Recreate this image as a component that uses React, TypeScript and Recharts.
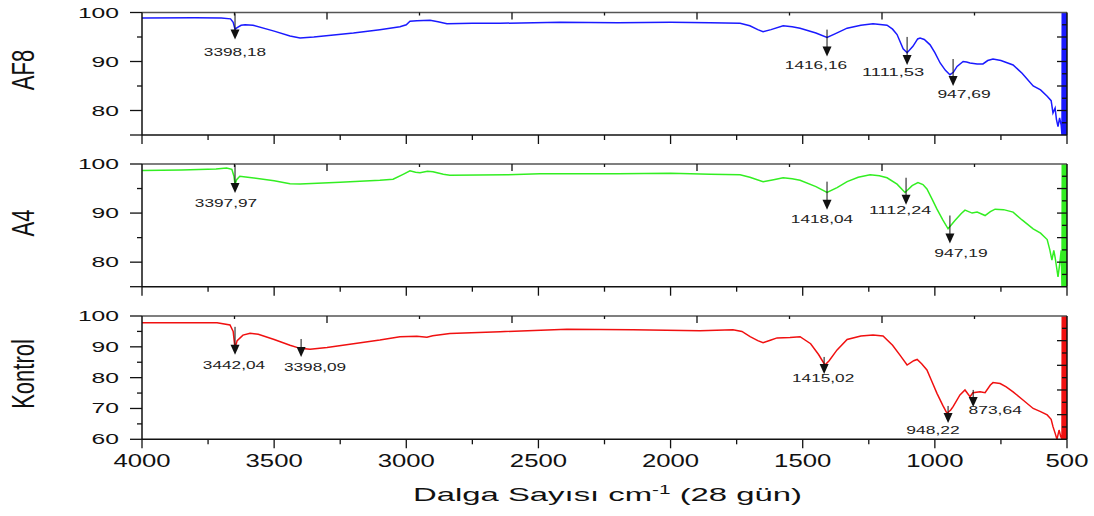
import { LineChart, Line, XAxis, YAxis, ReferenceDot } from 'recharts';

const FONT = '"Liberation Sans", Arial, sans-serif';
const INK = '#111';

// FTIR scans: [wavenumber cm-1, transmittance %]
const af8Points: [number, number][] = [
  [4000, 98.9], [3800, 98.95], [3700, 98.9], [3665, 98.7], [3655, 98.0], [3648, 96.6],
  [3640, 96.9], [3625, 97.4], [3610, 97.5], [3580, 97.4], [3500, 96.2], [3440, 95.2],
  [3402, 94.8], [3350, 95.0], [3200, 95.8], [3100, 96.5], [3024, 97.1], [3000, 97.5],
  [2986, 98.2], [2960, 98.3], [2910, 98.4], [2880, 98.1], [2846, 97.7], [2750, 97.8],
  [2645, 97.8], [2418, 98.0], [2200, 97.9], [2000, 98.0], [1850, 97.9], [1737, 97.8],
  [1700, 97.3], [1670, 96.5], [1650, 96.1], [1620, 96.5], [1574, 97.3], [1540, 97.1],
  [1510, 96.8], [1450, 95.8], [1408, 94.9], [1380, 95.6], [1332, 96.8], [1280, 97.4],
  [1234, 97.7], [1181, 97.4], [1160, 96.6], [1143, 95.5], [1120, 92.6], [1105, 91.8],
  [1083, 93.1], [1065, 94.6], [1056, 94.8], [1040, 94.5], [1018, 93.4], [1000, 91.8],
  [980, 89.7], [960, 88.2], [943, 87.3], [930, 87.8], [916, 89.0], [893, 90.0],
  [880, 89.9], [867, 89.7], [840, 89.5], [818, 89.5], [800, 90.2], [780, 90.5],
  [750, 90.2], [704, 89.3], [670, 87.6], [628, 85.0], [600, 84.2], [575, 82.9],
  [560, 82.0], [553, 79.5], [545, 80.5], [540, 78.2], [534, 76.7], [528, 78.5], [522, 77.0],
];
const a4Points: [number, number][] = [
  [4000, 98.7], [3850, 98.8], [3720, 99.0], [3680, 99.2], [3660, 98.9], [3652, 97.5],
  [3648, 95.8], [3642, 96.8], [3630, 97.5], [3600, 97.3], [3500, 96.6], [3440, 96.0],
  [3402, 95.9], [3250, 96.3], [3100, 96.7], [3050, 96.9], [3012, 97.9], [2986, 98.6],
  [2965, 98.3], [2948, 98.2], [2920, 98.5], [2899, 98.4], [2860, 97.9], [2835, 97.7],
  [2619, 97.8], [2494, 98.0], [2200, 98.0], [2000, 98.1], [1850, 97.9], [1737, 97.8],
  [1700, 97.3], [1650, 96.4], [1610, 96.8], [1574, 97.2], [1540, 97.0], [1510, 96.7],
  [1450, 95.4], [1408, 94.2], [1370, 95.2], [1332, 96.4], [1290, 97.3], [1245, 97.8],
  [1210, 97.6], [1181, 97.2], [1143, 95.9], [1113, 94.2], [1086, 95.6], [1064, 96.2],
  [1045, 95.8], [1030, 94.9], [1010, 92.8], [992, 90.8], [970, 88.6], [950, 86.8],
  [924, 88.5], [900, 89.9], [886, 90.6], [859, 90.0], [840, 90.2], [810, 89.5],
  [790, 90.3], [772, 90.8], [740, 90.7], [704, 90.2], [670, 88.6], [628, 86.8],
  [600, 85.9], [575, 84.6], [565, 82.5], [557, 80.4], [550, 82.4], [545, 81.0],
  [534, 77.0], [528, 79.5], [522, 82.4],
];
const kontrolPoints: [number, number][] = [
  [4000, 97.8], [3850, 97.8], [3716, 97.8], [3667, 97.1], [3655, 95.0], [3648, 89.5],
  [3640, 92.0], [3618, 93.8], [3591, 94.4], [3560, 94.1], [3500, 92.4], [3440, 90.5],
  [3402, 89.5], [3364, 89.2], [3300, 89.8], [3200, 91.0], [3100, 92.2], [3024, 93.3],
  [2960, 93.4], [2922, 93.1], [2900, 93.6], [2835, 94.3], [2645, 94.9], [2392, 95.7],
  [2142, 95.5], [1889, 95.2], [1764, 95.5], [1730, 95.0], [1699, 93.3], [1670, 92.0],
  [1650, 91.3], [1620, 92.2], [1597, 92.9], [1548, 93.0], [1510, 93.3], [1470, 91.0],
  [1440, 87.5], [1416, 84.1], [1400, 85.5], [1370, 89.0], [1332, 92.4], [1280, 93.5],
  [1234, 93.8], [1196, 93.5], [1160, 90.5], [1132, 87.3], [1105, 84.1], [1080, 85.5],
  [1067, 85.9], [1050, 84.5], [1030, 82.5], [1010, 78.5], [992, 74.9], [970, 71.0],
  [954, 68.4], [940, 69.5], [931, 70.6], [905, 74.4], [886, 76.0], [867, 73.8],
  [856, 75.1], [829, 75.4], [810, 75.1], [790, 77.6], [780, 78.4], [753, 78.1],
  [730, 77.0], [704, 75.4], [670, 73.0], [628, 70.0], [600, 69.0], [575, 67.9],
  [560, 66.5], [553, 64.1], [545, 62.0], [538, 60.0], [530, 63.0], [524, 61.0],
];

// detector noise at the low end fills each panel top to bottom
const af8Edge: [number, number][] = [
  [519, 75], [518, 100], [517, 75], [516, 100], [515, 75], [514, 100], [513, 75],
  [512, 100], [511, 75], [510, 100], [509, 75], [508, 100], [507, 75], [506, 100],
  [505, 75], [504, 100], [503, 75], [502, 100], [501, 75], [500, 100],
];
const a4Edge: [number, number][] = [
  [519, 75], [518, 100], [517, 75], [516, 100], [515, 75], [514, 100], [513, 75],
  [512, 100], [511, 75], [510, 100], [509, 75], [508, 100], [507, 75], [506, 100],
  [505, 75], [504, 100], [503, 75], [502, 100], [501, 75], [500, 100],
];
const kontrolEdge: [number, number][] = [
  [519, 60], [518, 100], [517, 60], [516, 100], [515, 60], [514, 100], [513, 60],
  [512, 100], [511, 60], [510, 100], [509, 60], [508, 100], [507, 60], [506, 100],
  [505, 60], [504, 100], [503, 60], [502, 100], [501, 60], [500, 102],
];

// peak markers: [wavenumber, transmittance at arrow tip, label]
const af8Peaks: [number, number, string][] = [
  [3648, 94.5, '3398,18'], [1408, 91.0, '1416,16'], [1105, 89.3, '1111,53'], [931, 85.0, '947,69'],
];
const a4Peaks: [number, number, string][] = [
  [3648, 94.1, '3397,97'], [1408, 90.7, '1418,04'], [1109, 91.7, '1112,24'], [943, 83.8, '947,19'],
];
const kontrolPeaks: [number, number, string][] = [
  [3648, 87.4, '3442,04'], [3398, 86.7, '3398,09'], [1419, 81.2, '1415,02'],
  [950, 65.3, '948,22'], [855, 70.5, '873,64'],
];

// arrow stem length and label offset (px) per marker
const peakStyle: Record<string, { len: number; dx: number; dy: number }> = {
  '3398,18': { len: 26, dx: 0, dy: 13 },
  '1416,16': { len: 27, dx: -11, dy: 8 },
  '1111,53': { len: 28, dx: -14, dy: 7 },
  '947,69': { len: 27, dx: 11, dy: 8 },
  '3397,97': { len: 28, dx: -9, dy: 10 },
  '1418,04': { len: 28, dx: -5, dy: 9 },
  '1112,24': { len: 27, dx: -6, dy: 5 },
  '947,19': { len: 28, dx: 11, dy: 9 },
  '3442,04': { len: 28, dx: -1, dy: 10 },
  '3398,09': { len: 18, dx: 14, dy: 10 },
  '1415,02': { len: 17, dx: -1, dy: 4 },
  '948,22': { len: 17, dx: -15, dy: 7 },
  '873,64': { len: 17, dx: 22, dy: 3 },
};

const xTicks = [4000, 3750, 3500, 3250, 3000, 2750, 2500, 2250, 2000, 1750, 1500, 1250, 1000, 750, 500];
const topTicks = [3650, 3300, 2950, 2600, 2250, 1900, 1550, 1200, 850];
const topMajor = [3300, 2600, 1900, 1200];

const af8LeftTicks = [75, 80, 85, 90, 95, 100];
const af8LeftLabels = [80, 90, 100];
const a4LeftTicks = [75, 80, 85, 90, 95, 100];
const a4LeftLabels = [80, 90, 100];
const kontrolLeftTicks = [60, 65, 70, 75, 80, 85, 90, 95, 100];
const kontrolLeftLabels = [60, 70, 80, 90, 100];

const upperRightTicks = [77.5, 80, 82.5, 85, 87.5, 90, 92.5, 95, 97.5];
const upperRightMajor = [80, 85, 90, 95];
const kontrolRightTicks = [64, 68, 72, 76, 80, 84, 88, 92, 96];
const kontrolRightMajor = [68, 76, 84, 92];

const toRows = (pts: [number, number][]) => pts.map(([wn, v]) => ({ wn, v }));

function PeakArrow({ cx, cy, label }: { cx: number; cy: number; label: string }) {
  const s = peakStyle[label];
  return (
    <g>
      <line x1={cx} y1={cy - s.len} x2={cx} y2={cy - 8} stroke={INK} strokeWidth={1} />
      <polygon points={`${cx - 4.5},${cy - 10} ${cx + 4.5},${cy - 10} ${cx},${cy}`} fill={INK} />
      <text
        x={cx + s.dx}
        y={cy + s.dy}
        textAnchor="middle"
        dominantBaseline="central"
        fontFamily={FONT}
        fontSize={10.5}
        fill="#222"
        textLength={label.length * 8.9}
        lengthAdjust="spacingAndGlyphs"
      >
        {label}
      </text>
    </g>
  );
}

interface PanelProps {
  points: [number, number][];
  edge: [number, number][];
  peaks: [number, number, string][];
  color: string;
  domain: [number, number];
  top: number;
  bottom: number;
  leftTicks: number[];
  leftLabels: number[];
  rightTicks: number[];
  rightMajor: number[];
  showXLabels: boolean;
}

function Panel(p: PanelProps) {
  const rows = toRows([...p.points, ...p.edge]);
  const bottomTick = ({ x, y, payload }: any) => {
    const major = payload.value % 500 === 0;
    const s = String(payload.value);
    return (
      <g>
        <line x1={x} y1={y} x2={x} y2={y + (major ? 9 : 5)} stroke={INK} strokeWidth={1.3} />
        {p.showXLabels && major && (
          <text x={x} y={y + 21} textAnchor="middle" dominantBaseline="central" fontFamily={FONT}
            fontSize={18.5} fill={INK} textLength={s.length * 14.3} lengthAdjust="spacingAndGlyphs">
            {s}
          </text>
        )}
      </g>
    );
  };
  const topTick = ({ x, y, payload }: any) => (
    <line x1={x} y1={y} x2={x} y2={y + (topMajor.includes(payload.value) ? 7 : 3)} stroke={INK} strokeWidth={1.3} />
  );
  const leftTick = ({ x, y, payload }: any) => {
    const labelled = p.leftLabels.includes(payload.value);
    const long = labelled || payload.value === p.domain[0];
    const s = String(payload.value);
    return (
      <g>
        <line x1={x - (long ? 12 : 5)} y1={y} x2={x} y2={y} stroke={INK} strokeWidth={1.3} />
        {labelled && (
          <text x={x - 23} y={y} textAnchor="end" dominantBaseline="central" fontFamily={FONT}
            fontSize={14.5} fill={INK} textLength={s.length * 13.7} lengthAdjust="spacingAndGlyphs">
            {s}
          </text>
        )}
      </g>
    );
  };
  const rightTick = ({ x, y, payload }: any) => (
    <line x1={x} y1={y} x2={x - (p.rightMajor.includes(payload.value) ? 10 : 5)} y2={y} stroke={INK} strokeWidth={1.3} />
  );

  // axes need a non-zero band to render, so each one gets 1px taken from the margin
  return (
    <div style={{ position: 'absolute', left: 0, top: 0 }}>
      <LineChart width={1094} height={516} data={rows}
        margin={{ top: p.top - 1, bottom: 516 - p.bottom - 1, left: 141, right: 26 }}>
        <XAxis dataKey="wn" type="number" domain={[500, 4000]} reversed allowDataOverflow
          ticks={xTicks} interval={0} height={1} tickSize={0} tickMargin={0} tickLine={false}
          tick={bottomTick} axisLine={{ stroke: INK, strokeWidth: 1.5 }} />
        <XAxis xAxisId="top" orientation="top" dataKey="wn" type="number" domain={[500, 4000]} reversed
          allowDataOverflow ticks={topTicks} interval={0} height={1} tickSize={0} tickMargin={0}
          tickLine={false} tick={topTick} axisLine={{ stroke: '#555', strokeWidth: 1.5 }} />
        <YAxis type="number" domain={p.domain} allowDataOverflow ticks={p.leftTicks} interval={0}
          width={1} tickSize={0} tickMargin={0} tickLine={false} tick={leftTick}
          axisLine={{ stroke: INK, strokeWidth: 1.5 }} />
        <YAxis yAxisId="right" orientation="right" type="number" domain={p.domain} allowDataOverflow
          ticks={p.rightTicks} interval={0} width={1} tickSize={0} tickMargin={0} tickLine={false}
          tick={rightTick} axisLine={{ stroke: INK, strokeWidth: 1.5 }} />
        <Line dataKey="v" type="linear" stroke={p.color} strokeWidth={1.5} dot={false}
          isAnimationActive={false} />
        {p.peaks.map(([wn, v, label]) => (
          <ReferenceDot key={label} x={wn} y={v} r={0} ifOverflow="visible"
            shape={(d: any) => <PeakArrow cx={d.cx} cy={d.cy} label={label} />} />
        ))}
      </LineChart>
    </div>
  );
}

function SideTitle({ x, y, text }: { x: number; y: number; text: string }) {
  return (
    <text transform={`translate(${x},${y}) rotate(-90) scale(1,1.4)`} textAnchor="middle"
      dominantBaseline="central" fontFamily={FONT} fontSize={22} fill={INK}>
      {text}
    </text>
  );
}

export default function App() {
  return (
    <div style={{ position: 'absolute', left: 0, top: 0, width: 1094, height: 516, background: '#fff' }}>
      <Panel points={af8Points} edge={af8Edge} peaks={af8Peaks} color="#1a1aff" domain={[75, 100]}
        top={12.5} bottom={135} leftTicks={af8LeftTicks} leftLabels={af8LeftLabels}
        rightTicks={upperRightTicks} rightMajor={upperRightMajor} showXLabels={false} />
      <Panel points={a4Points} edge={a4Edge} peaks={a4Peaks} color="#33ee22" domain={[75, 100]}
        top={164} bottom={286.7} leftTicks={a4LeftTicks} leftLabels={a4LeftLabels}
        rightTicks={upperRightTicks} rightMajor={upperRightMajor} showXLabels={false} />
      <Panel points={kontrolPoints} edge={kontrolEdge} peaks={kontrolPeaks} color="#f01010" domain={[60, 100]}
        top={316} bottom={439.3} leftTicks={kontrolLeftTicks} leftLabels={kontrolLeftLabels}
        rightTicks={kontrolRightTicks} rightMajor={kontrolRightMajor} showXLabels />
      <svg width={1094} height={516} style={{ position: 'absolute', left: 0, top: 0, pointerEvents: 'none' }}>
        <SideTitle x={24} y={70} text="AF8" />
        <SideTitle x={24} y={223} text="A4" />
        <SideTitle x={24} y={374} text="Kontrol" />
        <text x={413} y={500.5} fontFamily={FONT} fontSize={19} fill={INK} textLength={389}
          lengthAdjust="spacingAndGlyphs">
          Dalga Sayısı cm<tspan fontSize={12} dy={-7}>-1</tspan><tspan dy={7}> (28 gün)</tspan>
        </text>
      </svg>
    </div>
  );
}
